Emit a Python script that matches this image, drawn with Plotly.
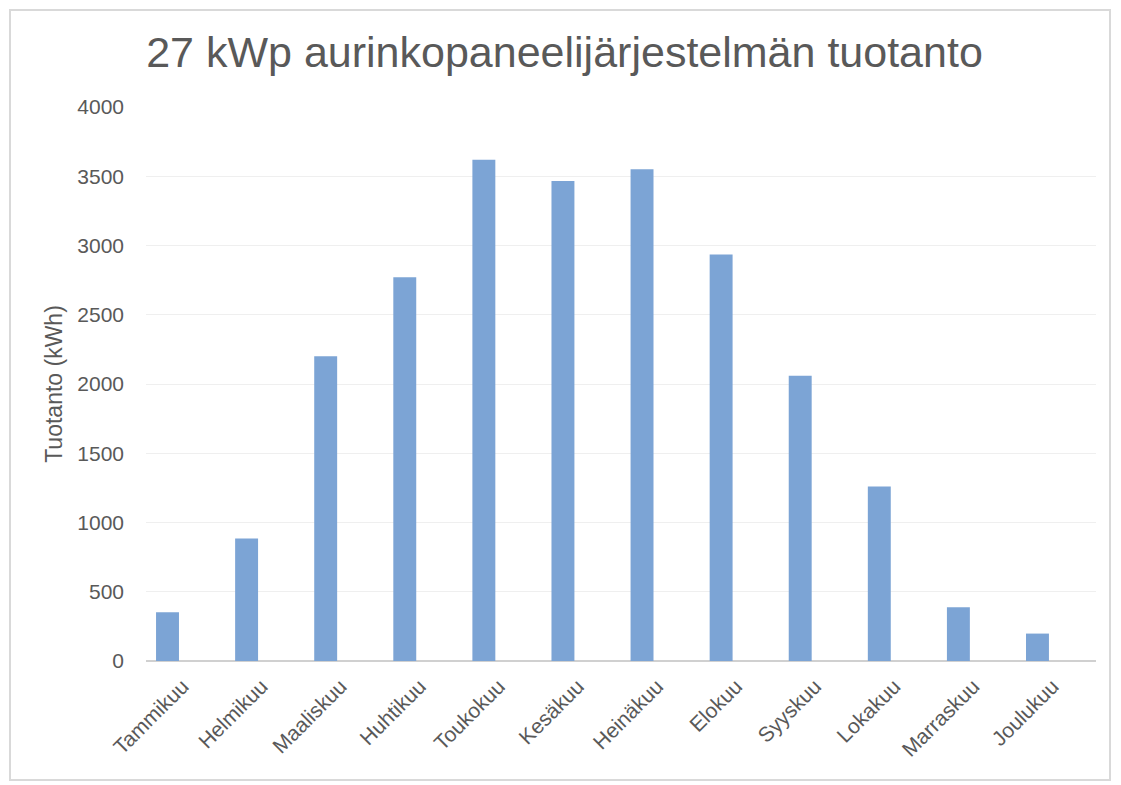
import plotly.graph_objects as go

months = ["Tammikuu", "Helmikuu", "Maaliskuu", "Huhtikuu", "Toukokuu", "Kesäkuu",
          "Heinäkuu", "Elokuu", "Syyskuu", "Lokakuu", "Marraskuu", "Joulukuu"]
production_kwh = [352, 885, 2200, 2770, 3620, 3465, 3550, 2935, 2060, 1260, 388, 198]
y_ticks = [0, 500, 1000, 1500, 2000, 2500, 3000, 3500, 4000]

title_text = "27 kWp aurinkopaneelijärjestelmän tuotanto"
y_title = "Tuotanto (kWh)"

OFF = 8  # page body margin
W, H = 1121 - OFF, 785 - OFF
L, T = 146 - OFF, 107 - OFF
R = W - (1096 - OFF)
B = H - (661 - OFF)
pw, ph = W - L - R, H - T - B

fig = go.Figure(go.Bar(
    x=months, y=production_kwh,
    marker=dict(color="#7CA4D5", line=dict(width=0)),
    width=0.29,
))

font_fam = "Liberation Sans, Arial, sans-serif"
grey = "#595959"

fig.update_layout(
    width=W, height=H,
    margin=dict(l=L, r=R, t=T, b=B, autoexpand=False),
    paper_bgcolor="white", plot_bgcolor="white",
    font=dict(family=font_fam, color=grey),
    title=dict(text=title_text, x=0.5, xanchor="center", xref="container",
               y=1 - (52 - OFF) / H, yanchor="middle", yref="container",
               font=dict(size=43, color=grey, family=font_fam)),
    showlegend=False,
    xaxis=dict(tickangle=-45, tickfont=dict(size=21, color=grey),
               range=[-0.272, 11.74],
               showgrid=False, showline=False, zeroline=False, ticks="",
               ticklabelshift=15, ticklabelstandoff=8),
    yaxis=dict(range=[0, 4000], tickvals=y_ticks, tickfont=dict(size=21, color=grey),
               showgrid=True, gridcolor="#EFEFEF", gridwidth=1,
               zeroline=True, zerolinecolor="#D0D0D0", zerolinewidth=2,
               showline=False, ticks="", ticklabelstandoff=21,
               title=dict(text=y_title, font=dict(size=23, color=grey), standoff=8)),
    shapes=[dict(type="rect", xref="paper", yref="paper",
                 x0=(10 - OFF - L) / pw, x1=(1110 - OFF - L) / pw,
                 y0=(H - B - (780 - OFF)) / ph, y1=(H - B - (10 - OFF)) / ph,
                 line=dict(color="#D9D9D9", width=2), fillcolor="rgba(0,0,0,0)",
                 layer="below")],
)

fig.write_html("out.html")
